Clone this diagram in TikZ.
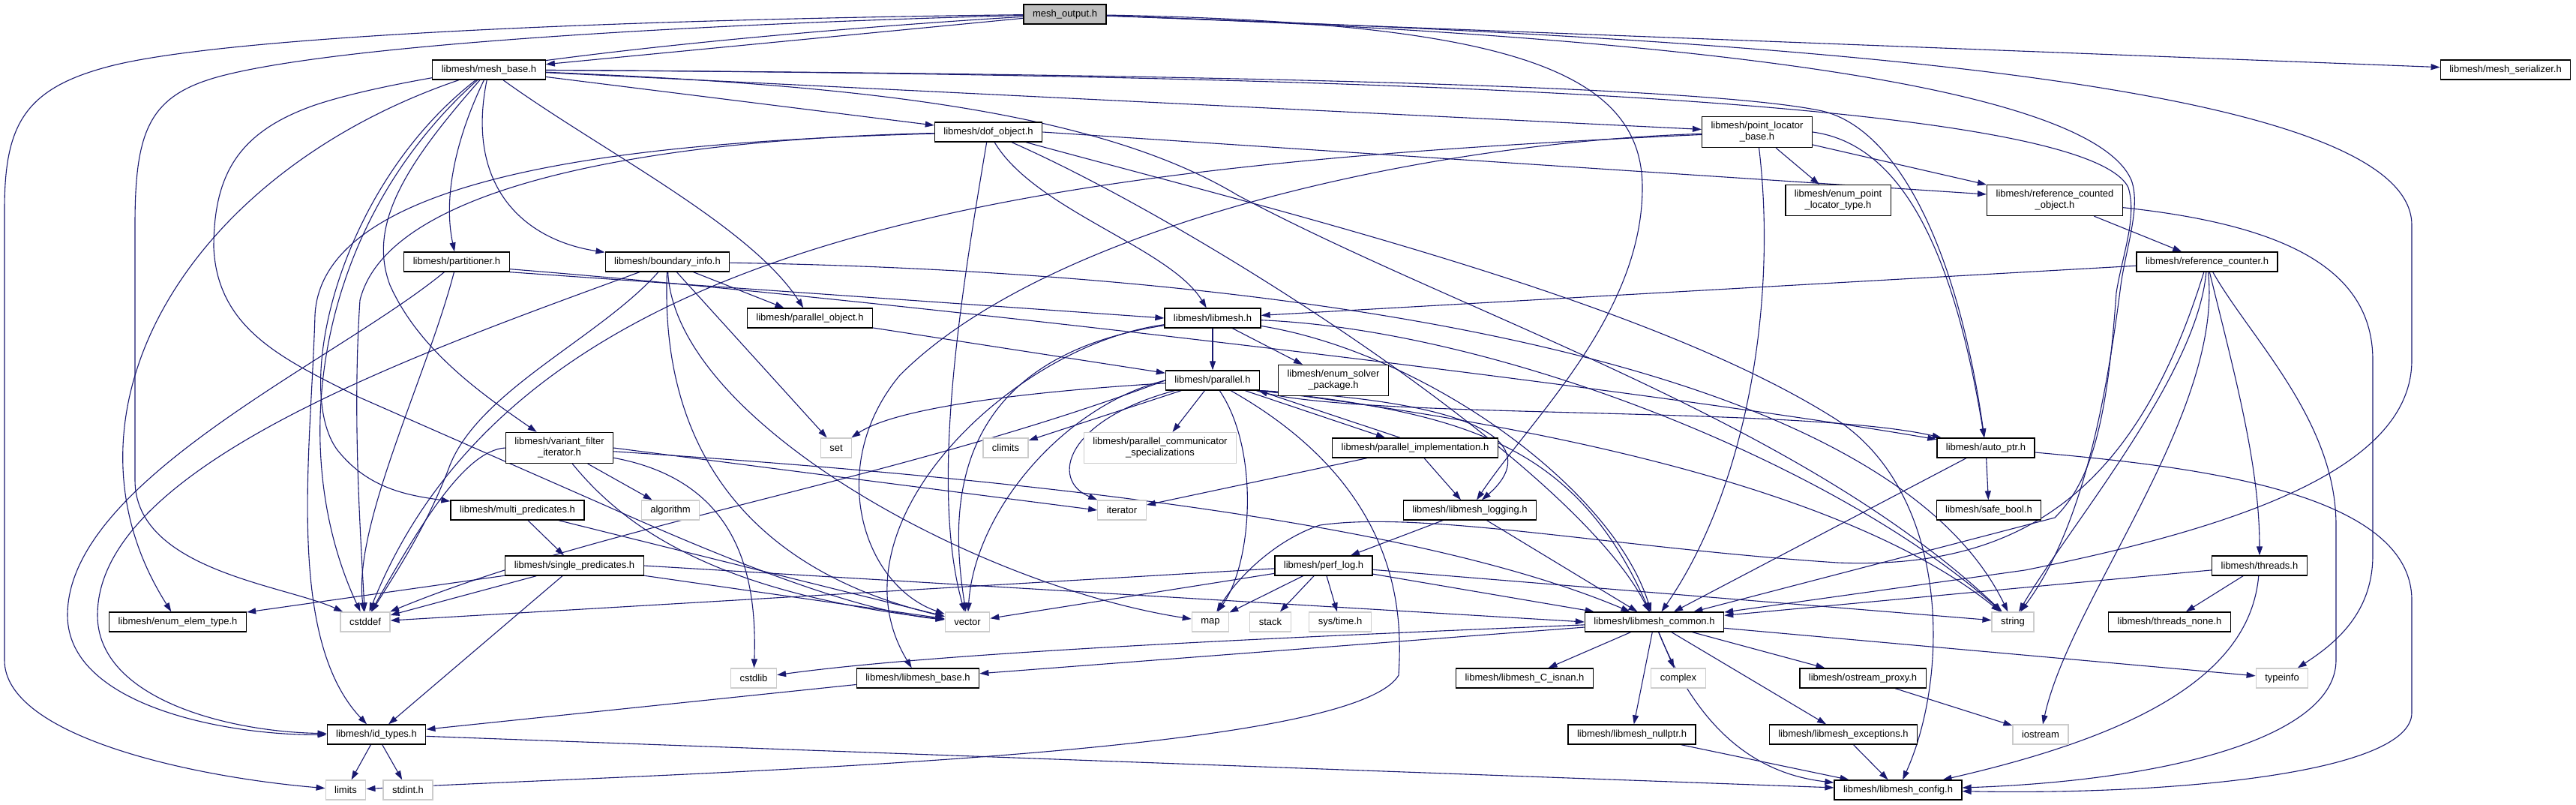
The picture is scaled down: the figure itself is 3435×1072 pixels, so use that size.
\documentclass[tikz,border=0pt]{standalone}
\usepackage{fontspec}
\setmainfont{Liberation Sans}
\usetikzlibrary{arrows.meta,backgrounds}
\definecolor{midnight}{HTML}{191970}
\begin{document}
\begin{tikzpicture}[x=1pt,y=-1pt,
  every node/.style={font=\fontsize{13}{15}\selectfont,align=center},
  file/.style={draw=black,line width=1.3pt,fill=white,minimum height=26pt,inner xsep=12pt,inner ysep=4pt},
  sys/.style={file,draw=gray!40},
  cur/.style={file,fill=gray!50},
  two/.style={minimum height=41pt},
  dep/.style={draw=midnight,line width=1.1pt,-{Triangle[length=12pt,width=8pt]}}]
\useasboundingbox (0,0) rectangle (3435,1072);
\node[cur] (mo) at (1420,19) {mesh\_output.h};
\node[file] (mb) at (652,93) {libmesh/mesh\_base.h};
\node[file] (ms) at (3341,93) {libmesh/mesh\_serializer.h};
\node[file] (dof) at (1318,176) {libmesh/dof\_object.h};
\node[file,two] (plb) at (2343,176) {libmesh/point\_locator\\\_base.h};
\node[file,two] (eplt) at (2451,267) {libmesh/enum\_point\\\_locator\_type.h};
\node[file,two] (rco) at (2740,267) {libmesh/reference\_counted\\\_object.h};
\node[file] (part) at (609,349) {libmesh/partitioner.h};
\node[file] (bi) at (890,349) {libmesh/boundary\_info.h};
\node[file] (rc) at (2943,349) {libmesh/reference\_counter.h};
\node[file] (po) at (1080,424) {libmesh/parallel\_object.h};
\node[file] (lm) at (1617,424) {libmesh/libmesh.h};
\node[file] (par) at (1617,507) {libmesh/parallel.h};
\node[file,two] (esp) at (1778,507) {libmesh/enum\_solver\\\_package.h};
\node[file,two] (vfi) at (746,597) {libmesh/variant\_filter\\\_iterator.h};
\node[sys] (set) at (1115,597) {set};
\node[sys] (climits) at (1341,597) {climits};
\node[sys,two] (pcs) at (1547,597) {libmesh/parallel\_communicator\\\_specializations};
\node[file] (pimpl) at (1887,597) {libmesh/parallel\_implementation.h};
\node[file] (aptr) at (2648,597) {libmesh/auto\_ptr.h};
\node[file] (mp) at (690,680) {libmesh/multi\_predicates.h};
\node[sys] (algo) at (894,680) {algorithm};
\node[sys] (iter) at (1496,680) {iterator};
\node[file] (log) at (1960,680) {libmesh/libmesh\_logging.h};
\node[file] (sbool) at (2652,680) {libmesh/safe\_bool.h};
\node[file] (sp) at (766,754) {libmesh/single\_predicates.h};
\node[file] (plog) at (1765,754) {libmesh/perf\_log.h};
\node[file] (thr) at (3013,754) {libmesh/threads.h};
\node[file] (eet) at (237,829) {libmesh/enum\_elem\_type.h};
\node[sys] (cstddef) at (487,829) {cstddef};
\node[sys] (vector) at (1290,829) {vector};
\node[sys] (map) at (1614,829) {map};
\node[sys] (stack) at (1694,829) {stack};
\node[sys] (systime) at (1787,829) {sys/time.h};
\node[file] (common) at (2206,829) {libmesh/libmesh\_common.h};
\node[sys] (string) at (2684,829) {string};
\node[file] (tnone) at (2893,829) {libmesh/threads\_none.h};
\node[sys] (cstdlib) at (1005,904) {cstdlib};
\node[file] (lbase) at (1224,904) {libmesh/libmesh\_base.h};
\node[file] (isnan) at (2033,904) {libmesh/libmesh\_C\_isnan.h};
\node[sys] (complex) at (2238,904) {complex};
\node[file] (oproxy) at (2484,904) {libmesh/ostream\_proxy.h};
\node[sys] (tinfo) at (3043,904) {typeinfo};
\node[file] (idt) at (502,979) {libmesh/id\_types.h};
\node[file] (nptr) at (2176,979) {libmesh/libmesh\_nullptr.h};
\node[file] (exc) at (2458,979) {libmesh/libmesh\_exceptions.h};
\node[sys] (iostream) at (2721,979) {iostream};
\node[sys] (limits) at (461,1053) {limits};
\node[sys] (stdint) at (544,1053) {stdint.h};
\node[file] (config) at (2531,1053) {libmesh/libmesh\_config.h};
\begin{scope}[on background layer]
% mesh_output.h
\draw[dep] (mo) -- (mb);
\draw[dep] (mo) -- (ms);
\draw[dep] (mo) .. controls (900,25) and (300,45) .. (140,90) .. controls (30,120) and (6,170) .. (6,280) -- (6,880) .. controls (6,980) and (250,1035) .. (limits);
\draw[dep] (mo) .. controls (1000,30) and (480,55) .. (300,100) .. controls (200,125) and (180,170) .. (180,300) -- (180,640) .. controls (180,760) and (380,780) .. (cstddef);
\draw[dep] (mo) .. controls (1100,38) and (600,80) .. (420,140) .. controls (320,175) and (285,230) .. (285,330) .. controls (290,440) and (380,480) .. (480,530) -- (810,675) .. controls (1000,760) and (1150,815) .. (vector);
\draw[dep] (mo) .. controls (2300,50) and (3216,100) .. (3216,300) -- (3216,480) .. controls (3216,620) and (3000,700) .. (2700,760) -- (common);
\draw[dep] (mo) .. controls (2300,50) and (2790,120) .. (2842,240) .. controls (2855,275) and (2835,330) .. (2828,380) .. controls (2810,520) and (2780,700) .. (string);
\draw[dep] (mo) .. controls (2000,30) and (2190,90) .. (2190,250) .. controls (2190,420) and (2040,560) .. (log);
% mesh_base.h
\draw[dep] (mb) -- (dof);
\draw[dep] (mb) -- (plb);
\draw[dep] (mb) .. controls (1800,100) and (2300,120) .. (2430,148) .. controls (2530,172) and (2610,330) .. (aptr);
\draw[dep] (mb) .. controls (1800,100) and (2780,130) .. (2838,250) .. controls (2850,290) and (2830,340) .. (2822,390) .. controls (2810,560) and (2790,640) .. (2740,690) -- (common);
\draw[dep] (mb) .. controls (1100,112) and (1450,140) .. (1650,260) .. controls (1950,420) and (2400,560) .. (string);
\draw[dep] (mb) .. controls (610,180) and (590,260) .. (part);
\draw[dep] (mb) .. controls (620,250) and (700,320) .. (bi);
\draw[dep] (mb) .. controls (800,200) and (1000,300) .. (po);
\draw[dep] (mb) .. controls (540,220) and (490,300) .. (520,380) .. controls (560,470) and (650,530) .. (vfi);
\draw[dep] (mb) .. controls (450,250) and (390,520) .. (450,600) .. controls (490,650) and (540,660) .. (mp);
\draw[dep] (mb) .. controls (250,230) and (60,550) .. (eet);
\draw[dep] (mb) .. controls (420,300) and (380,600) .. (cstddef);
% dof_object.h
\draw[dep] (dof) .. controls (1380,280) and (1560,330) .. (lm);
\draw[dep] (dof.east) -- ([yshift=8pt]rco.west);
\draw[dep] (dof) .. controls (1600,300) and (2100,620) .. (common);
\draw[dep] (dof) .. controls (1700,280) and (2200,400) .. (2450,560) .. controls (2600,660) and (2600,900) .. (config);
\draw[dep] (dof) .. controls (900,185) and (520,240) .. (480,400) .. controls (470,550) and (480,700) .. (cstddef);
\draw[dep] (dof) .. controls (900,188) and (430,220) .. (420,420) .. controls (415,600) and (380,850) .. (idt);
\draw[dep] (dof) .. controls (1280,400) and (1240,650) .. (vector);
% point_locator_base.h
\draw[dep] (plb) -- (eplt);
\draw[dep] (plb) -- (rco);
\draw[dep] (plb.east) .. controls (2520,190) and (2600,300) .. (aptr);
\draw[dep] (plb) .. controls (2370,400) and (2330,650) .. (common);
\draw[dep] (plb) .. controls (1900,190) and (1400,300) .. (1200,500) .. controls (1100,620) and (1150,780) .. (vector);
\draw[dep] (plb) .. controls (1400,220) and (700,300) .. (cstddef);
% reference counting
\draw[dep] (rco) -- (rc);
\draw[dep] (rco) .. controls (3050,300) and (3164,360) .. (3164,480) -- (3164,740) .. controls (3164,820) and (3110,860) .. (tinfo);
\draw[dep] (rc) -- (lm);
\draw[dep] (rc) .. controls (2980,500) and (3013,620) .. (thr);
\draw[dep] (rc) .. controls (3000,450) and (3115,560) .. (3115,700) -- (3115,880) .. controls (3115,980) and (2900,1040) .. (config);
\draw[dep] (rc) .. controls (2965,550) and (2760,800) .. (iostream);
\draw[dep] (rc) .. controls (2930,500) and (2760,700) .. (string);
\draw[dep] (rc) .. controls (2850,650) and (2700,760) .. (2450,750) .. controls (2150,730) and (1900,680) .. (1760,700) .. controls (1700,720) and (1650,770) .. (map);
\draw[dep] (thr) -- (common);
\draw[dep] (thr) -- (tnone);
\draw[dep] (thr) .. controls (3000,900) and (2850,980) .. (config);
\draw[dep] (aptr) -- (sbool);
\draw[dep] (aptr) -- (common);
\draw[dep] (aptr) .. controls (2900,620) and (3216,650) .. (3216,800) -- (3216,950) .. controls (3216,1030) and (2900,1060) .. (config);
% boundary_info.h, partitioner.h
\draw[dep] (bi) -- (po);
\draw[dep] (bi) -- (set);
\draw[dep] (bi) .. controls (560,470) and (130,620) .. (130,820) .. controls (130,930) and (300,975) .. (idt);
\draw[dep] (bi) .. controls (800,450) and (640,520) .. (600,620) .. controls (570,700) and (530,760) .. (cstddef);
\draw[dep] (bi) .. controls (880,600) and (1000,760) .. (vector);
\draw[dep] (bi) .. controls (900,560) and (1300,780) .. (map);
\draw[dep] (bi) .. controls (1600,360) and (2500,450) .. (string);
\draw[dep] (part.south east) -- (lm.west);
\draw[dep] ([yshift=4pt]part.south east) .. controls (1200,400) and (2200,520) .. (aptr);
\draw[dep] (part) .. controls (450,480) and (90,640) .. (90,820) .. controls (90,940) and (300,980) .. (idt);
\draw[dep] (part) .. controls (570,500) and (470,700) .. (cstddef);
\draw[dep] (po) -- (par);
% libmesh.h, parallel.h
\draw[dep] (lm) -- (par);
\draw[dep] (lm) -- (esp);
\draw[dep] (lm) .. controls (1900,470) and (2150,650) .. (common);
\draw[dep] (lm) .. controls (2000,440) and (2450,620) .. (string);
\draw[dep] (lm) .. controls (1250,480) and (1270,700) .. (vector);
\draw[dep] (lm) .. controls (1350,460) and (1100,700) .. (lbase);
\draw[dep] (par) .. controls (1400,520) and (1200,540) .. (set);
\draw[dep] (par) -- (climits);
\draw[dep] (par) -- (pcs);
\draw[dep] (par) .. controls (1420,560) and (1400,640) .. (iter);
\draw[dep] (par) .. controls (1680,600) and (1670,750) .. (map);
\draw[dep] (par.west) .. controls (1420,540) and (1300,680) .. (vector);
\draw[dep] (par.south east) .. controls (2000,560) and (2450,640) .. (string);
\draw[dep] (par.south east) .. controls (1950,550) and (2100,590) .. (common);
\draw[dep] ([xshift=-20pt]par.south east) -- ([xshift=-40pt]pimpl.north);
\draw[dep] ([xshift=-20pt]pimpl.north) -- ([xshift=-2pt]par.south east);
\draw[dep] (par.south east) .. controls (2060,540) and (2030,620) .. (log);
\draw[dep] ([xshift=-5pt]par.south east) .. controls (1800,560) and (2400,540) .. (aptr);
\draw[dep] (par.west) .. controls (1200,640) and (800,700) .. (cstddef);
\draw[dep] (par) .. controls (1870,650) and (1870,820) .. (1865,900) .. controls (1800,1010) and (900,1030) .. (limits);
\draw[dep] (pimpl) -- (log);
\draw[dep] (pimpl) -- (iter);
% logging
\draw[dep] (log) -- (plog);
\draw[dep] (log) -- (common);
\draw[dep] (plog) -- (cstddef);
\draw[dep] (plog) -- (vector);
\draw[dep] (plog) -- (map);
\draw[dep] (plog) -- (stack);
\draw[dep] (plog) -- (systime);
\draw[dep] (plog) -- (string);
\draw[dep] (plog) -- (common);
% predicates, iterators
\draw[dep] (sp) -- (eet);
\draw[dep] (sp) -- (cstddef);
\draw[dep] (sp) -- (idt);
\draw[dep] (sp) -- (vector);
\draw[dep] (sp.east) -- (common.west);
\draw[dep] (mp) -- (sp);
\draw[dep] (mp) -- (vector);
\draw[dep] (vfi) -- (algo);
\draw[dep] (vfi.east) -- (iter.west);
\draw[dep] (vfi) .. controls (1400,640) and (1900,700) .. (common);
\draw[dep] (vfi.west) .. controls (620,600) and (560,700) .. (cstddef);
\draw[dep] (vfi) .. controls (830,700) and (950,790) .. (vector);
\draw[dep] (vfi) .. controls (980,640) and (1010,760) .. (cstdlib);
% libmesh_common.h
\draw[dep] (common) .. controls (1700,850) and (1250,870) .. (cstdlib);
\draw[dep] (common) -- (lbase);
\draw[dep] (common) -- (isnan);
\draw[dep] (common) -- (complex);
\draw[dep] (common) -- (nptr);
\draw[dep] (common) -- (oproxy);
\draw[dep] (common) -- (exc);
\draw[dep] (common) -- (tinfo);
\draw[dep] (common) .. controls (2260,960) and (2330,1030) .. (config);
\draw[dep] (lbase) -- (idt);
\draw[dep] (idt) -- (limits);
\draw[dep] (idt) -- (stdint);
\draw[dep] (idt) -- (config);
\draw[dep] (nptr) -- (config);
\draw[dep] (exc) -- (config);
\draw[dep] (oproxy) -- (iostream);
\end{scope}
\end{tikzpicture}
\end{document}
